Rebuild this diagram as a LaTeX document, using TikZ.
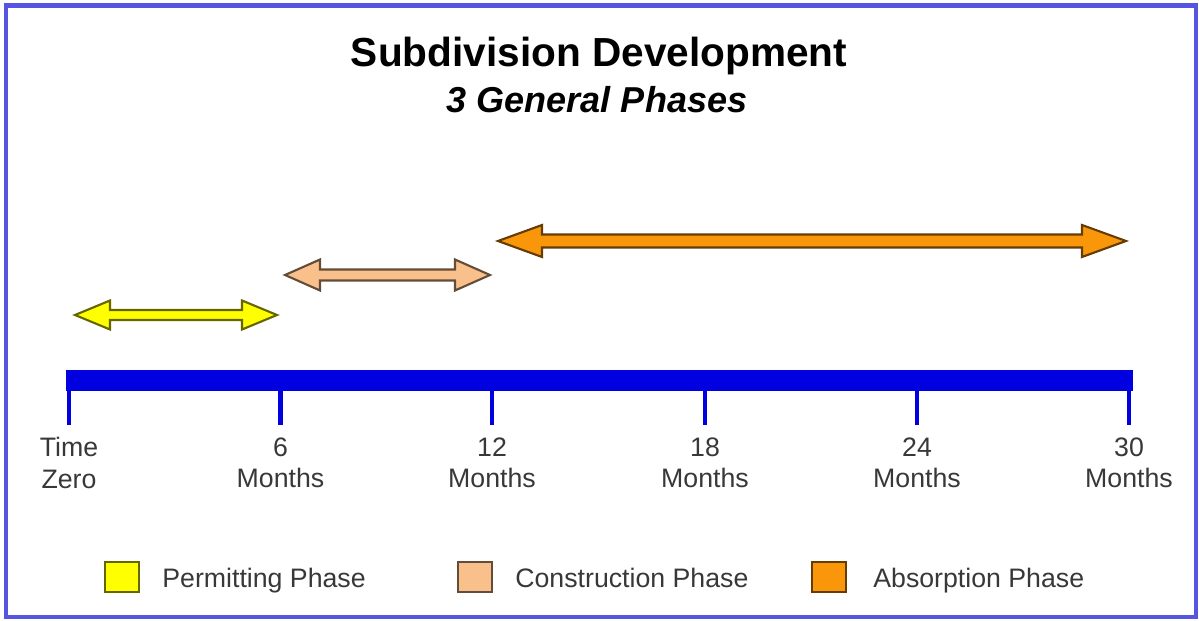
\documentclass[tikz,border=0pt]{standalone}
\usepackage{fontspec}
\setmainfont{Liberation Sans}
\begin{document}
\begin{tikzpicture}[x=0.02cm,y=-0.02cm,
  ticklabel/.style={font=\fontsize{15.2}{18.1}\selectfont,text=black!78,align=center,inner sep=0pt,anchor=north},
  legendtext/.style={font=\fontsize{15.2}{18.1}\selectfont,text=black!78,inner sep=0pt,anchor=base west},
  swatch/.style={line width=1.2pt,minimum width=19pt,minimum height=17pt,inner sep=0pt}]
  % Define colors for the frame, the time bar and each phase
  \definecolor{frameblue}{RGB}{85,85,225}
  \definecolor{barblue}{RGB}{0,0,225}
  \definecolor{permit}{RGB}{255,255,0}
  \definecolor{build}{RGB}{250,192,140}
  \definecolor{absorb}{RGB}{250,150,10}

  % Page size and blue frame
  \useasboundingbox (0,0) rectangle (1199,621);
  \draw[frameblue,line width=2.8pt] (6,5.5) rectangle (1196,617);

  % Title lines
  \node[font=\fontsize{23.1}{27}\selectfont\bfseries,inner sep=0pt,anchor=base] (title) at (599,67) {Subdivision Development};
  \node[font=\fontsize{20.5}{24}\selectfont\bfseries\itshape,inner sep=0pt,anchor=base] (subtitle) at (597,113) {3 General Phases};

  % Phase arrows: name/left tip/right tip/centre/head length/head half-width/shaft half-width
  \foreach \name/\xl/\xr/\yc/\hl/\ha/\hs in {permit/75/277/315/35/14.5/5,
                                             build/285/490/275/35/15.5/5.5,
                                             absorb/498/1126/241/44/16/6.5}
    \filldraw[fill=\name,draw=\name!40!black,line width=1.2pt]
      (\xl,\yc) -- (\xl+\hl,\yc-\ha) -- (\xl+\hl,\yc-\hs) -- (\xr-\hl,\yc-\hs)
      -- (\xr-\hl,\yc-\ha) -- (\xr,\yc) -- (\xr-\hl,\yc+\ha) -- (\xr-\hl,\yc+\hs)
      -- (\xl+\hl,\yc+\hs) -- (\xl+\hl,\yc+\ha) -- cycle;

  % Time bar
  \fill[barblue] (66,370) rectangle (1133,391);

  % Ticks and their labels
  \foreach \x/\ta/\tb in {69/Time/Zero, 280.5/6/Months, 492/12/Months,
                          705/18/Months, 917/24/Months, 1129/30/Months} {
    \draw[barblue,line width=2.8pt] (\x,390) -- (\x,425);
    \node[ticklabel] (tick\ta) at (\x,437) {\ta\\\tb};
  }

  % Legend
  \node[swatch,fill=permit,draw=permit!40!black] (swpermit) at (122,577) {};
  \node[legendtext] (lgpermit) at (162,587) {Permitting Phase};
  \node[swatch,fill=build,draw=build!40!black] (swbuild) at (475,577) {};
  \node[legendtext] (lgbuild) at (515,587) {Construction Phase};
  \node[swatch,fill=absorb,draw=absorb!40!black] (swabsorb) at (829,577) {};
  \node[legendtext] (lgabsorb) at (873,587) {Absorption Phase};
\end{tikzpicture}
\end{document}
